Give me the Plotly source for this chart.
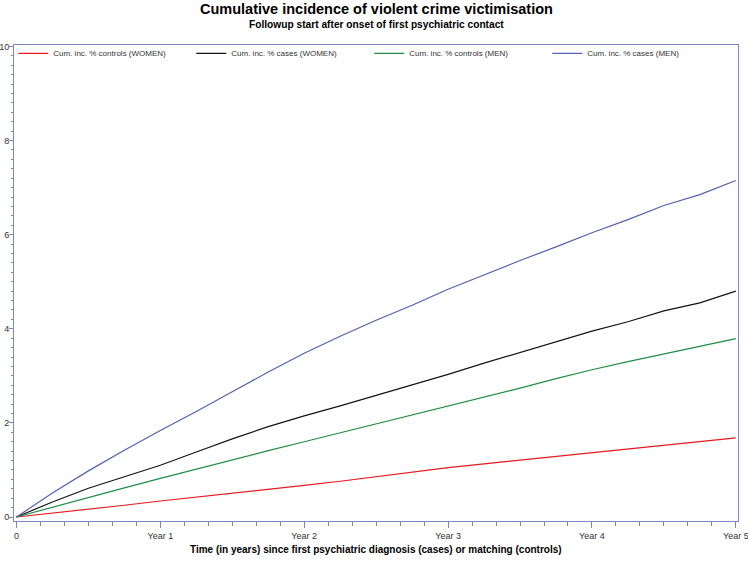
import plotly.graph_objects as go

FRAME = "#7B86C4"
TEXT = "#333333"
FONT = "Liberation Sans, Arial, sans-serif"

# follow-up time in years
years = [0, 0.25, 0.5, 0.75, 1, 1.25, 1.5, 1.75, 2, 2.25, 2.5,
         2.75, 3, 3.25, 3.5, 3.75, 4, 4.25, 4.5, 4.75, 5]

# cumulative incidence (%)
controls_women = [0, 0.08, 0.17, 0.25, 0.34, 0.42, 0.51, 0.59, 0.67, 0.76, 0.86,
                  0.96, 1.05, 1.13, 1.21, 1.29, 1.37, 1.45, 1.53, 1.60, 1.68]
cases_women = [0, 0.32, 0.61, 0.86, 1.10, 1.38, 1.66, 1.92, 2.15, 2.36, 2.58,
               2.80, 3.03, 3.27, 3.50, 3.72, 3.95, 4.15, 4.38, 4.55, 4.80]
controls_men = [0, 0.21, 0.42, 0.62, 0.82, 1.02, 1.22, 1.41, 1.60, 1.79, 1.97,
                2.16, 2.35, 2.55, 2.74, 2.94, 3.13, 3.30, 3.46, 3.62, 3.79]
cases_men = [0, 0.51, 0.98, 1.42, 1.84, 2.24, 2.66, 3.08, 3.48, 3.84, 4.18,
             4.50, 4.84, 5.15, 5.45, 5.74, 6.04, 6.32, 6.62, 6.85, 7.15]

x_tickvals = [0, 1, 2, 3, 4, 5]
x_ticktext = ["0", "Year 1", "Year 2", "Year 3", "Year 4", "Year 5"]
y_tickvals = [0, 2, 4, 6, 8, 10]

series = [
    ("Cum. inc. % controls (WOMEN)", controls_women, "#E8191F"),
    ("Cum. inc. % cases (WOMEN)", cases_women, "#141414"),
    ("Cum. inc. % controls (MEN)", controls_men, "#1F8E46"),
    ("Cum. inc. % cases (MEN)", cases_men, "#5461B0"),
]

fig = go.Figure()

for name, values, color in series:
    fig.add_trace(
        go.Scatter(
            x=years,
            y=values,
            mode="lines",
            name=name,
            line=dict(color=color, width=1.2),
        )
    )

fig.add_annotation(
    text="<b>Cumulative incidence of violent crime victimisation</b>",
    x=0.5, xref="paper", y=1, yref="paper", yshift=46,
    showarrow=False, font=dict(size=14.5, color="#000000", family=FONT),
)
fig.add_annotation(
    text="<b>Followup start after onset of first psychiatric contact</b>",
    x=0.5, xref="paper", y=1, yref="paper", yshift=28,
    showarrow=False, font=dict(size=10.2, color="#000000", family=FONT),
)
fig.add_annotation(
    text="<b>Time (in years) since first psychiatric diagnosis (cases) or matching (controls)</b>",
    x=0.5, xref="paper", y=0, yref="paper", yshift=-36,
    showarrow=False, font=dict(size=10, color="#000000", family=FONT),
)

fig.update_layout(
    width=748,
    height=561,
    paper_bgcolor="white",
    plot_bgcolor="white",
    font=dict(family=FONT, color=TEXT, size=9),
    margin=dict(l=14, r=10, t=45, b=40),
    showlegend=True,
    legend=dict(
        orientation="h",
        x=-0.001,
        y=1.013,
        xanchor="left",
        yanchor="top",
        bgcolor="rgba(0,0,0,0)",
        entrywidth=133,
        entrywidthmode="pixels",
        font=dict(size=8, color=TEXT),
        itemwidth=30,
    ),
)

fig.update_xaxes(
    range=[-0.017, 5.015],
    tickvals=x_tickvals,
    ticktext=x_ticktext,
    ticks="outside",
    ticklen=6,
    tickcolor=FRAME,
    tickfont=dict(size=9, color=TEXT),
    ticklabeloverflow="allow",
    showline=True,
    linecolor=FRAME,
    linewidth=1,
    mirror=True,
    showgrid=False,
    zeroline=False,
    minor=dict(dtick=1 / 6, ticks="outside", ticklen=4, tickcolor=FRAME, showgrid=False),
    automargin=False,
)

fig.update_yaxes(
    range=[-0.085, 10.03],
    tickvals=y_tickvals,
    ticks="outside",
    ticklen=4,
    tickcolor=FRAME,
    tickfont=dict(size=9, color=TEXT),
    ticklabelstandoff=-2,
    showline=True,
    linecolor=FRAME,
    linewidth=1,
    mirror=True,
    showgrid=False,
    zeroline=False,
    minor=dict(dtick=0.2, ticks="outside", ticklen=2.5, tickcolor=FRAME, showgrid=False),
    automargin=False,
)

fig.write_html(
    "out.html",
    config={"displayModeBar": False},
    post_script="document.body.style.margin='0';",
)
